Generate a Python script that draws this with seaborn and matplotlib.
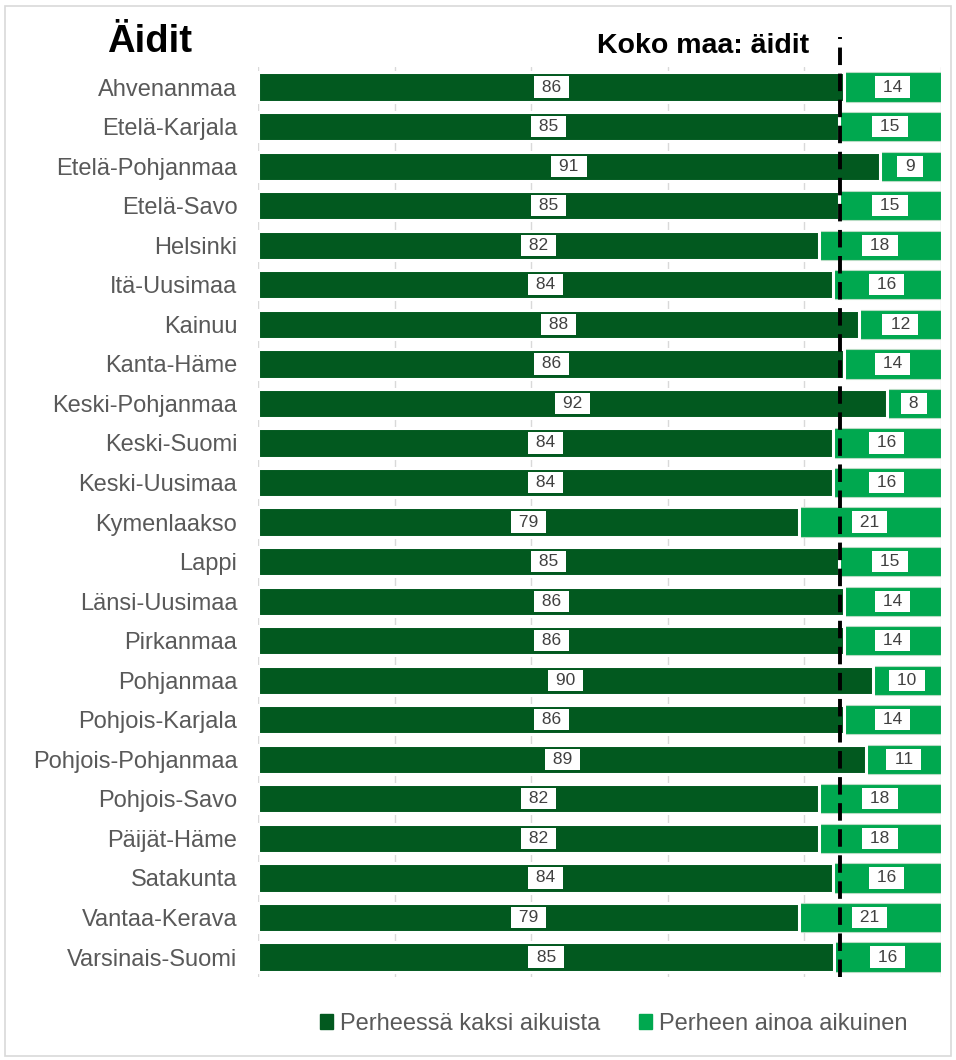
import pandas as pd
import matplotlib.pyplot as plt
import matplotlib.patches as mpatches
import seaborn as sns

sns.set_theme(style="white")
plt.rcParams['font.family'] = ['Liberation Sans', 'DejaVu Sans']

# Data
regions = ['Ahvenanmaa', 'Etelä-Karjala', 'Etelä-Pohjanmaa', 'Etelä-Savo', 'Helsinki',
           'Itä-Uusimaa', 'Kainuu', 'Kanta-Häme', 'Keski-Pohjanmaa', 'Keski-Suomi',
           'Keski-Uusimaa', 'Kymenlaakso', 'Lappi', 'Länsi-Uusimaa', 'Pirkanmaa',
           'Pohjanmaa', 'Pohjois-Karjala', 'Pohjois-Pohjanmaa', 'Pohjois-Savo',
           'Päijät-Häme', 'Satakunta', 'Vantaa-Kerava', 'Varsinais-Suomi']
two_adults = [85.9, 85.1, 91.1, 85.1, 82.2, 84.2, 88.1, 85.9, 92.1, 84.2,
              84.2, 79.2, 85.1, 85.9, 85.9, 90.1, 85.9, 89.1, 82.2, 82.2,
              84.2, 79.2, 84.4]
two_labels = [86, 85, 91, 85, 82, 84, 88, 86, 92, 84, 84, 79, 85, 86, 86, 90, 86, 89, 82, 82, 84, 79, 85]
single_labels = [14, 15, 9, 15, 18, 16, 12, 14, 8, 16, 16, 21, 15, 14, 14, 10, 14, 11, 18, 18, 16, 21, 16]
national = 85.2

dark = '#02591F'
light = '#00A84F'
grey = '#595959'

df = pd.DataFrame({'region': regions, 'two': two_adults, 'total': 100})

fig = plt.figure(figsize=(9.56, 10.6), dpi=100)
ax = fig.add_axes([0.27, 0.0785, 0.714, 0.858])

sns.barplot(data=df, y='region', x='total', color=light, orient='h', width=0.74,
            saturation=1, edgecolor='#b8dcc4', linewidth=0.8, ax=ax, zorder=2)
sns.barplot(data=df, y='region', x='two', color=dark, orient='h', width=0.74,
            saturation=1, edgecolor='white', linewidth=2.2, ax=ax, zorder=3)

box = dict(facecolor='white', edgecolor='none', boxstyle='square,pad=0.18')
for i in range(len(regions)):
    ax.text(two_adults[i] / 2, i, f' {two_labels[i]} ', ha='center', va='center',
            fontsize=12.5, color='#404040', zorder=5, bbox=box)
    ax.text((two_adults[i] + 100) / 2, i, f' {single_labels[i]} ', ha='center', va='center',
            fontsize=12.5, color='#404040', zorder=5, bbox=box)

ax.axvline(national, ymin=0.0, ymax=1.033, color='black', lw=2.8,
           linestyle=(0, (4.5, 2.2)), clip_on=False, zorder=6)

ax.set_xlim(0, 100)
ax.set_ylim(22.5, -0.5)
ax.set_xticks(range(0, 101, 20))
ax.set_xticklabels([])
ax.grid(axis='x', color='#d9d9d9', lw=1, zorder=0)
ax.set_axisbelow(True)
for s in ax.spines.values():
    s.set_visible(False)
ax.set_xlabel('')
ax.set_ylabel('')
ax.tick_params(axis='y', length=0, pad=15, labelsize=17, labelcolor=grey)
ax.tick_params(axis='x', length=0)

fig.text(0.156, 0.96, 'Äidit', fontsize=27.5, fontweight='bold', color='black',
         ha='center', va='center')
fig.text(0.735, 0.957, 'Koko maa: äidit', fontsize=20.5, fontweight='bold', color='black',
         ha='center', va='center')

handles = [mpatches.Patch(color=dark, label='Perheessä kaksi aikuista'),
           mpatches.Patch(color=light, label='Perheen ainoa aikuinen')]
leg = fig.legend(handles=handles, loc='center', bbox_to_anchor=(0.642, 0.034), ncol=2,
                 frameon=False, fontsize=17, handlelength=0.55, handleheight=0.55,
                 handletextpad=0.3, columnspacing=1.6)
for t in leg.get_texts():
    t.set_color(grey)

fig.patches.append(mpatches.Rectangle((0.005, 0.004), 0.99, 0.99, transform=fig.transFigure,
                                      fill=False, edgecolor='#d9d9d9', lw=1.2))

fig.savefig('out.png', dpi=100)
